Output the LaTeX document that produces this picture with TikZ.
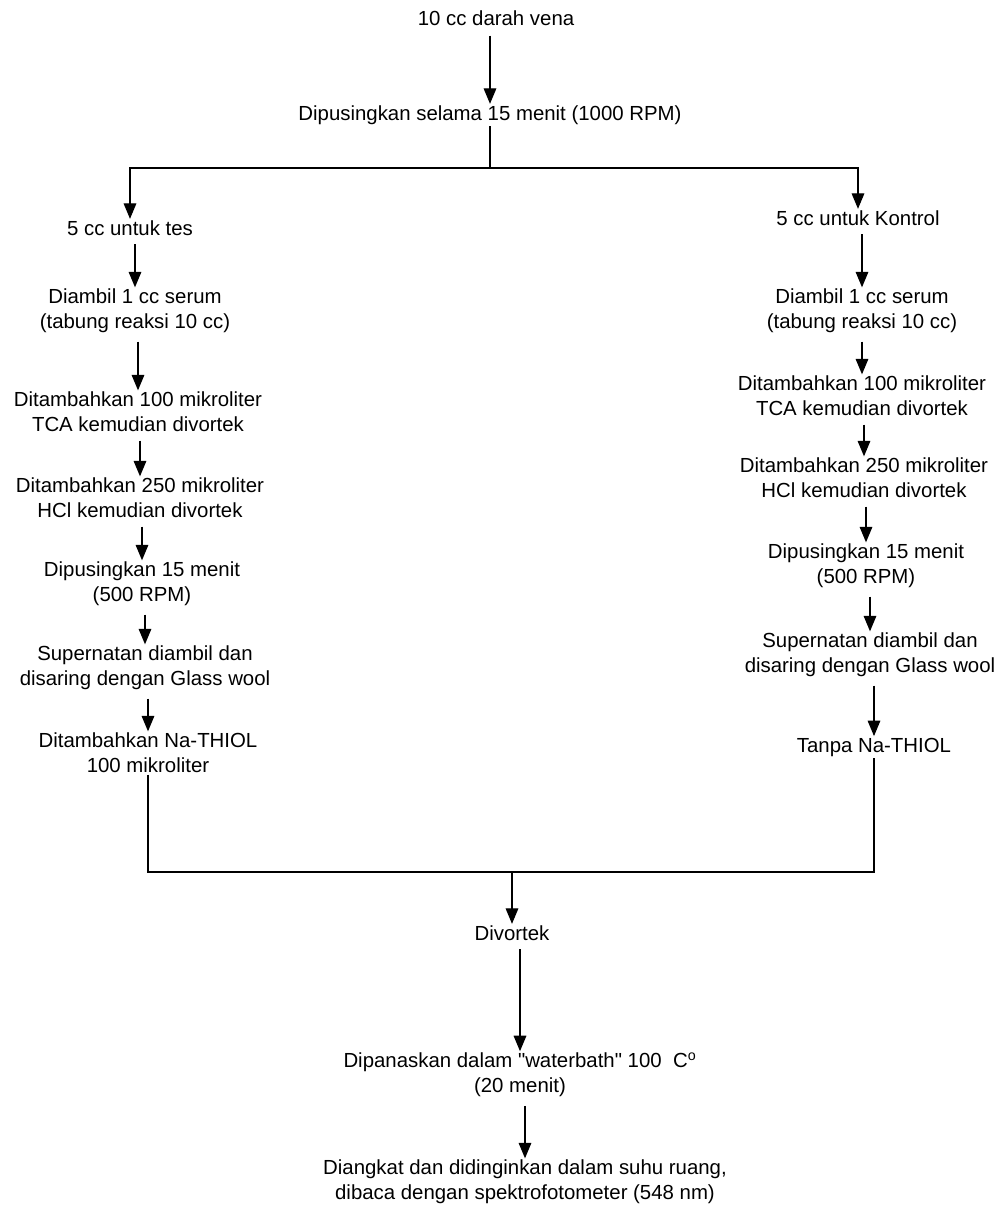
\documentclass[tikz,border=0pt]{standalone}
\usepackage{fontspec}
\setmainfont{Liberation Sans}
\usepackage{tikz}
\usetikzlibrary{arrows.meta,positioning}
\tikzset{
  stepbox/.style={rectangle,inner sep=1pt,align=center,
    font=\fontsize{14.5}{17.8}\selectfont,text=black},
  arr/.style={-{Triangle[length=11pt,width=9pt]},line width=0.8pt,color=black},
  ln/.style={line width=0.8pt,color=black},
}
\begin{document}
\begin{tikzpicture}[x=0.025cm,y=-0.025cm]
  \useasboundingbox (0,0) rectangle (999,1212);

  % top part
  \node[stepbox] (top) at (496,18) {10 cc darah vena};
  \node[stepbox] (spin) at (490,115) {Dipusingkan selama 15 menit (1000 RPM)};

  % left column (test)
  \node[stepbox] (t1) at (130,228) {5 cc untuk tes};
  \node[stepbox] (t2) at (135,311) {Diambil 1 cc serum\\(tabung reaksi 10 cc)};
  \node[stepbox] (t3) at (138,412) {Ditambahkan 100 mikroliter\\TCA kemudian divortek};
  \node[stepbox] (t4) at (140,498) {Ditambahkan 250 mikroliter\\HCl kemudian divortek};
  \node[stepbox] (t5) at (142,584) {Dipusingkan 15 menit\\(500 RPM)};
  \node[stepbox] (t6) at (145,668) {Supernatan diambil dan\\disaring dengan Glass wool};
  \node[stepbox] (t7) at (148,753) {Ditambahkan Na-THIOL\\100 mikroliter};

  % right column (control)
  \node[stepbox] (k1) at (858,218) {5 cc untuk Kontrol};
  \node[stepbox] (k2) at (862,311) {Diambil 1 cc serum\\(tabung reaksi 10 cc)};
  \node[stepbox] (k3) at (862,396) {Ditambahkan 100 mikroliter\\TCA kemudian divortek};
  \node[stepbox] (k4) at (864,478) {Ditambahkan 250 mikroliter\\HCl kemudian divortek};
  \node[stepbox] (k5) at (866,566) {Dipusingkan 15 menit\\(500 RPM)};
  \node[stepbox] (k6) at (870,655) {Supernatan diambil dan\\disaring dengan Glass wool};
  \node[stepbox] (k7) at (874,747) {Tanpa Na-THIOL};

  % bottom part
  \node[stepbox] (vortex) at (512,933) {Divortek};
  \node[stepbox] (heat) at (520,1075) {Dipanaskan dalam \textquotedbl waterbath\textquotedbl{} 100~~C\textsuperscript{o}\\(20 menit)};
  \node[stepbox] (read) at (525,1182) {Diangkat dan didinginkan dalam suhu ruang,\\dibaca dengan spektrofotometer (548 nm)};

  \coordinate (split) at (490,168);
  \coordinate (merge) at (512,872);

  \draw[arr] ([yshift=-6pt]top.south -| spin.north) -- (spin.north);
  \draw[ln] (spin.south) -- (split);
  \draw[arr] (split) -| (t1.north);
  \draw[arr] (split) -| (k1.north);

  \foreach \from/\to in {t1/t2,t2/t3,t3/t4,t4/t5,t5/t6,t6/t7,
                         k1/k2,k2/k3,k3/k4,k4/k5,k5/k6,k6/k7,vortex/heat,heat/read}
    \draw[arr] ([yshift=-5pt]\from.south -| \to.north) -- (\to.north);

  \draw[ln] (t7.south) |- (merge) -| (k7.south);
  \draw[arr] (merge) -- (vortex);

\end{tikzpicture}
\end{document}
